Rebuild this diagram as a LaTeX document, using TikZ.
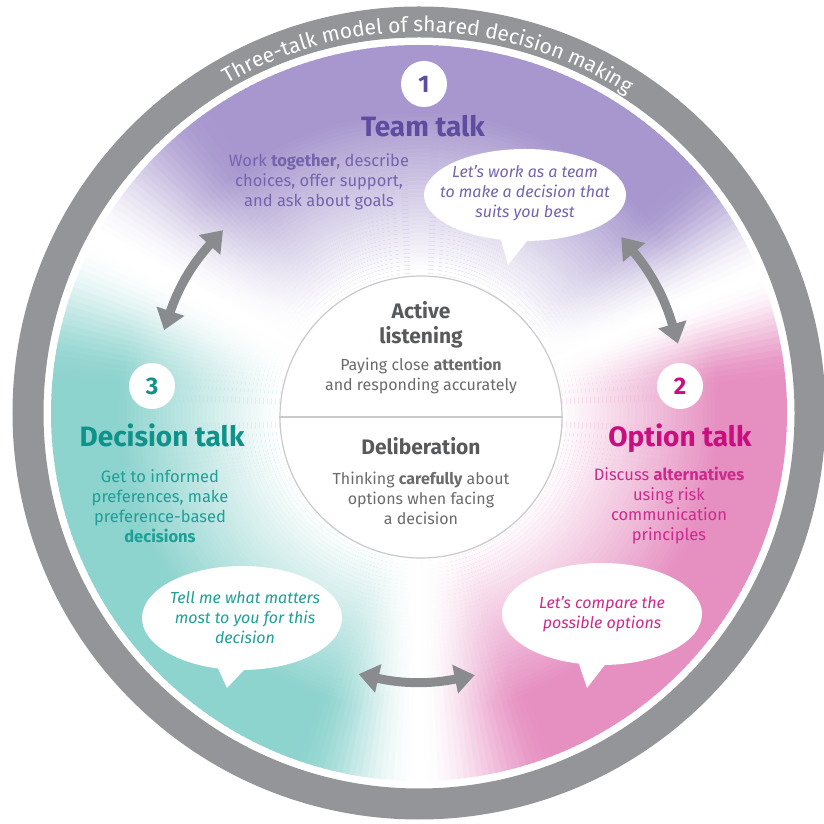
\documentclass[tikz,border=0pt]{standalone}
\usepackage{fontspec}
\setmainfont{Fira Sans}
\usetikzlibrary{arrows.meta,shapes.callouts,decorations.text}

\definecolor{ringgray}{HTML}{939598}
\definecolor{arrowgray}{HTML}{8A8B8E}
\definecolor{purplebg}{HTML}{A797CE}
\definecolor{tealbg}{HTML}{8DD3CE}
\definecolor{pinkbg}{HTML}{E68FC1}
\definecolor{purplehead}{HTML}{5D4C9F}
\definecolor{purplebody}{HTML}{7464AD}
\definecolor{tealhead}{HTML}{10928B}
\definecolor{tealbody}{HTML}{1E9F97}
\definecolor{pinkhead}{HTML}{C90E80}
\definecolor{pinkbody}{HTML}{CC2A8C}
\definecolor{corehead}{HTML}{58595B}
\definecolor{coretext}{HTML}{6A6B6D}
\definecolor{innerline}{HTML}{C9CACC}

\newcommand\ringfont{\color{white}\fontsize{21}{24}\selectfont}

\begin{document}
\begin{tikzpicture}[x=1pt, y=1pt,
    headline/.style={font=\bfseries\fontsize{28}{32}\selectfont, anchor=base},
    blurb/.style={font=\fontsize{16.5}{20}\selectfont, align=center},
    saying/.style={font=\itshape\fontsize{16}{20}\selectfont, align=center},
    corehead/.style={font=\bfseries\fontsize{21}{25}\selectfont, align=center, text=corehead},
    coretext/.style={font=\fontsize{16}{20}\selectfont, align=center, text=coretext},
    numdot/.style={circle, fill=white, minimum size=46, inner sep=0, font=\bfseries\fontsize{24}{24}\selectfont},
    bubble/.style={ellipse callout, fill=white, inner sep=0, minimum width=200},
    twoway/.style={arrowgray, line width=9, {Triangle[length=20pt,width=28pt]}-{Triangle[length=20pt,width=28pt]}}]
\useasboundingbox (0,0) rectangle (823,824);
\fill[white] (0,0) rectangle (823,824);
\coordinate (ctr) at (419,411);

% outer band
\draw[ringgray, line width=31] (ctr) circle[radius=391];

% coloured disc, swept round by angle (smooth steps between the colours)
\foreach \from/\to/\col/\pa/\pb in {-68/5/pinkbg/100/100, 5/22/pinkbg/100/0, 22/42/purplebg/0/100,
    42/125/purplebg/100/100, 125/152/purplebg/100/0, 152/175/tealbg/0/100,
    175/250/tealbg/100/100, 250/270/tealbg/100/0, 270/292/pinkbg/0/100} {
  \pgfmathtruncatemacro\last{\to-1}
  \foreach \t in {\from,...,\last} {
    \pgfmathsetmacro\sweep{(\t+0.5-\from)/(\to-\from)}
    \pgfmathtruncatemacro\pct{\pa+(\pb-\pa)*(3*\sweep*\sweep-2*\sweep*\sweep*\sweep)}
    \fill[\col!\pct!white] (ctr) -- ++(\t:368) arc[start angle=\t, end angle=\t+1.3, radius=368] -- cycle;
  }
}
% white centre, thinning out towards the rim
\fill[white] (ctr) circle[radius=140];
\foreach \r in {140,144,...,296} {
  \pgfmathsetmacro\op{1-(\r-140)/160}
  \fill[white, opacity=\op, even odd rule] (ctr) circle[radius=\r+4] circle[radius=\r];
}

% title on the band
\path (ctr) ++(168.5:381) coordinate (ringstart);
\path[decorate, decoration={text along path, text align=center,
    text={|\ringfont|Three-talk model of shared decision making}}]
  (ringstart) arc[start angle=168.5, end angle=8.5, radius=381];

% centre circle
\node[circle, draw=innerline, fill=white, line width=1.2, minimum size=282, inner sep=0] (core) at (421,407) {};
\draw[innerline, line width=1.2] (core.west) -- (core.east);
\node[corehead] (listen) at (421,499) {Active\\listening};
\node[coretext] (listentxt) at (421,448) {Paying close \textbf{attention}\\and responding accurately};
\node[corehead] (delib) at (421,377.5) {Deliberation};
\node[coretext] (delibtxt) at (421,325.5) {Thinking \textbf{carefully} about\\options when facing\\a decision};

% 1 team talk
\node[numdot, text=purplehead] (n1) at (424,740) {1};
\node[headline, text=purplehead] (team) at (423,687) {Team talk};
\node[blurb, text=purplebody] (teamtxt) at (319,642) {Work \textbf{together}, describe\\choices, offer support,\\and ask about goals};
\coordinate (tipT) at (508,559);
\node[bubble, callout absolute pointer={(tipT)}, minimum width=202, minimum height=92] (bubT) at (525,629) {};
\node[saying, text=purplebody] (sayT) at (525,630.5) {Let’s work as a team\\to make a decision that\\suits you best};

% 3 decision talk
\node[numdot, text=tealhead] (n3) at (152,438) {3};
\node[headline, text=tealhead] (decision) at (162,377) {Decision talk};
\node[blurb, text=tealbody] (dectxt) at (160,318) {Get to informed\\preferences, make\\preference-based\\\textbf{decisions}};
\coordinate (tipD) at (227,136);
\node[bubble, callout absolute pointer={(tipD)}, minimum height=104] (bubD) at (242,206) {};
\node[saying, text=tealbody] (sayD) at (245,206.5) {Tell me what matters\\most to you for this\\decision};

% 2 option talk
\node[numdot, text=pinkhead] (n2) at (680,438) {2};
\node[headline, text=pinkhead] (option) at (680,377) {Option talk};
\node[blurb, text=pinkbody] (opttxt) at (669,318) {Discuss \textbf{alternatives}\\using risk\\communication\\principles};
\coordinate (tipO) at (587,136);
\node[bubble, callout absolute pointer={(tipO)}, minimum height=102] (bubO) at (602,210) {};
\node[saying, text=pinkbody] (sayO) at (602,210) {Let’s compare the\\possible options};

% two-way arrows between the talks
\foreach \n/\a in {la/137, lb/162, ra/15, rb/41, ba/257, bb/282}
  \path (ctr) ++(\a:268) coordinate (\n);
\draw[twoway] (la) to[bend right=12] (lb);
\draw[twoway] (ra) to[bend right=12] (rb);
\draw[twoway] (ba) to[bend right=12] (bb);
\end{tikzpicture}
\end{document}
